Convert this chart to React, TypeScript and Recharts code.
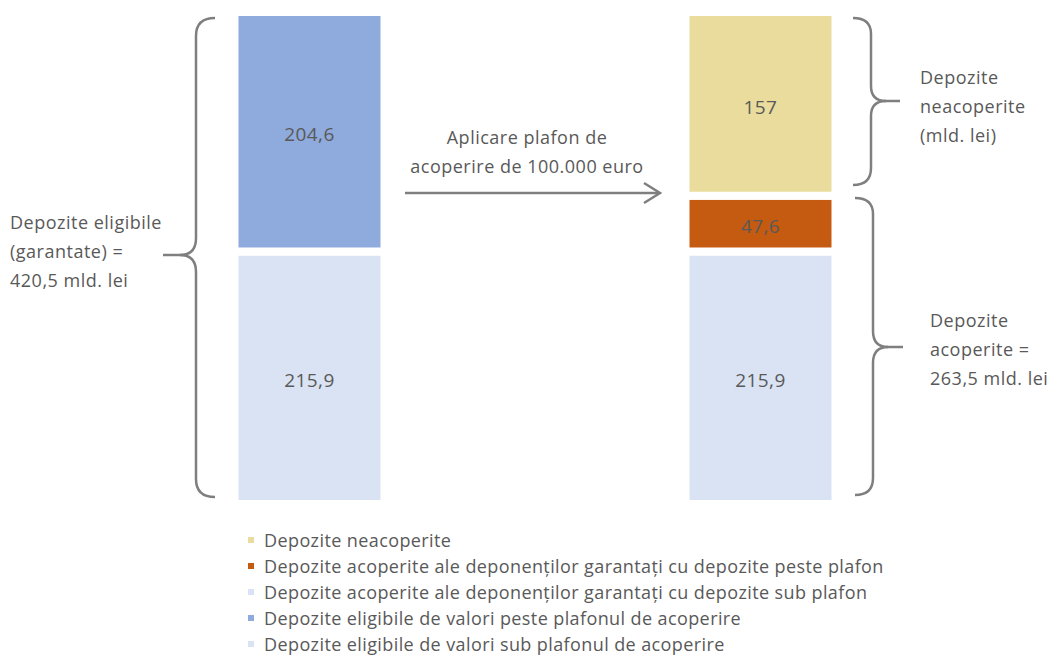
import { BarChart, Bar, XAxis, YAxis, LabelList } from "recharts";

const categories = ["Depozite eligibile", "Depozite după plafon"];
const eligSub = [215.9, null];
const eligPeste = [204.6, null];
const acopSub = [null, 215.9];
const acopPeste = [null, 47.6];
const neacop = [null, 157];

const legendLabels = [
  "Depozite neacoperite",
  "Depozite acoperite ale deponenților garantați cu depozite peste plafon",
  "Depozite acoperite ale deponenților garantați cu depozite sub plafon",
  "Depozite eligibile de valori peste plafonul de acoperire",
  "Depozite eligibile de valori sub plafonul de acoperire",
];
const legendColors = ["#e9dc9c", "#c55a11", "#dae3f3", "#8faadc", "#dae3f3"];

const data = categories.map((name, i) => ({
  name,
  eligSub: eligSub[i],
  eligPeste: eligPeste[i],
  acopSub: acopSub[i],
  acopPeste: acopPeste[i],
  neacop: neacop[i],
}));

const FONT = "'Open Sans', sans-serif";
const TEXT = "#595959";
const BRACE = "#7f7f7f";

const fmt = (v: any) => (v == null ? "" : String(v).replace(".", ","));

const series = [
  { key: "eligSub", color: "#dae3f3" },
  { key: "acopSub", color: "#dae3f3" },
  { key: "acopPeste", color: "#c55a11" },
  { key: "eligPeste", color: "#8faadc" },
  { key: "neacop", color: "#e9dc9c" },
];

function Note({ x, y, lines, anchor = "start" }: { x: number; y: number; lines: string[]; anchor?: string }) {
  return (
    <text
      x={x}
      y={y}
      fill={TEXT}
      fontSize={18}
      letterSpacing={0.5}
      fontFamily={FONT}
      textAnchor={anchor as any}
    >
      {lines.map((l, i) => (
        <tspan key={i} x={x} dy={i === 0 ? 0 : 29}>
          {l}
        </tspan>
      ))}
    </text>
  );
}

export default function App() {
  return (
    <div style={{ position: "relative", width: 1048, height: 649, fontFamily: FONT }}>
      <BarChart
        width={1048}
        height={649}
        data={data}
        margin={{ top: 4, right: 70.5, bottom: 153, left: 75.5 }}
        barSize={150}
      >
        <XAxis dataKey="name" hide />
        <YAxis hide domain={[0, 420.5]} />
        {series.map((s) => (
          <Bar
            key={s.key}
            dataKey={s.key}
            stackId="a"
            fill={s.color}
            stroke="#ffffff"
            strokeWidth={8}
            isAnimationActive={false}
          >
            <LabelList
              dataKey={s.key}
              position="center"
              formatter={fmt}
              fill={TEXT}
              fontSize={19}
              letterSpacing={0.4}
              fontFamily={FONT}
              dy={3}
            />
          </Bar>
        ))}
      </BarChart>

      <svg
        width={1048}
        height={649}
        style={{ position: "absolute", left: 0, top: 0, pointerEvents: "none" }}
      >
        <g transform="translate(-8,-8)" fill="none" stroke={BRACE} strokeWidth={2.5}>
          {/* left brace */}
          <path d="M 215 18 Q 196 18 196 36 L 196 238 Q 196 255 180 255 Q 196 255 196 272 L 196 479 Q 196 497 215 497" />
          <path d="M 163 255 L 184 255" />
          {/* right top brace */}
          <path d="M 853 18 Q 871 18 871 34 L 871 86 Q 871 101 886 101 Q 871 101 871 116 L 871 168 Q 871 185 853 185" />
          <path d="M 884 101 L 900 101" />
          {/* right bottom brace */}
          <path d="M 855 198 Q 873 198 873 214 L 873 331 Q 873 347 888 347 Q 873 347 873 363 L 873 478 Q 873 495 855 495" />
          <path d="M 886 347 L 903 347" />
          {/* arrow */}
          <path d="M 405 193 L 659 193" />
          <path d="M 644 183 L 660 193 L 644 203" strokeLinejoin="miter" />
        </g>
        <g transform="translate(-8,-8)" stroke="none">
          <Note x={10} y={229} lines={["Depozite eligibile", "(garantate) =", "420,5 mld. lei"]} />
          <Note x={527} y={144} anchor="middle" lines={["Aplicare plafon de", "acoperire de 100.000 euro"]} />
          <Note x={920} y={84} lines={["Depozite", "neacoperite", "(mld. lei)"]} />
          <Note x={930} y={327} lines={["Depozite", "acoperite =", "263,5 mld. lei"]} />
        </g>
      </svg>

      <div style={{ position: "absolute", left: 240, top: 519 }}>
        {legendLabels.map((label, i) => (
          <div
            key={label}
            style={{
              display: "flex",
              alignItems: "center",
              height: 26,
              color: TEXT,
              fontSize: 18,
              letterSpacing: 0.4,
              whiteSpace: "nowrap",
            }}
          >
            <span
              style={{
                display: "inline-block",
                width: 6,
                height: 6,
                background: legendColors[i],
                marginRight: 10,
              }}
            />
            {label}
          </div>
        ))}
      </div>
    </div>
  );
}
